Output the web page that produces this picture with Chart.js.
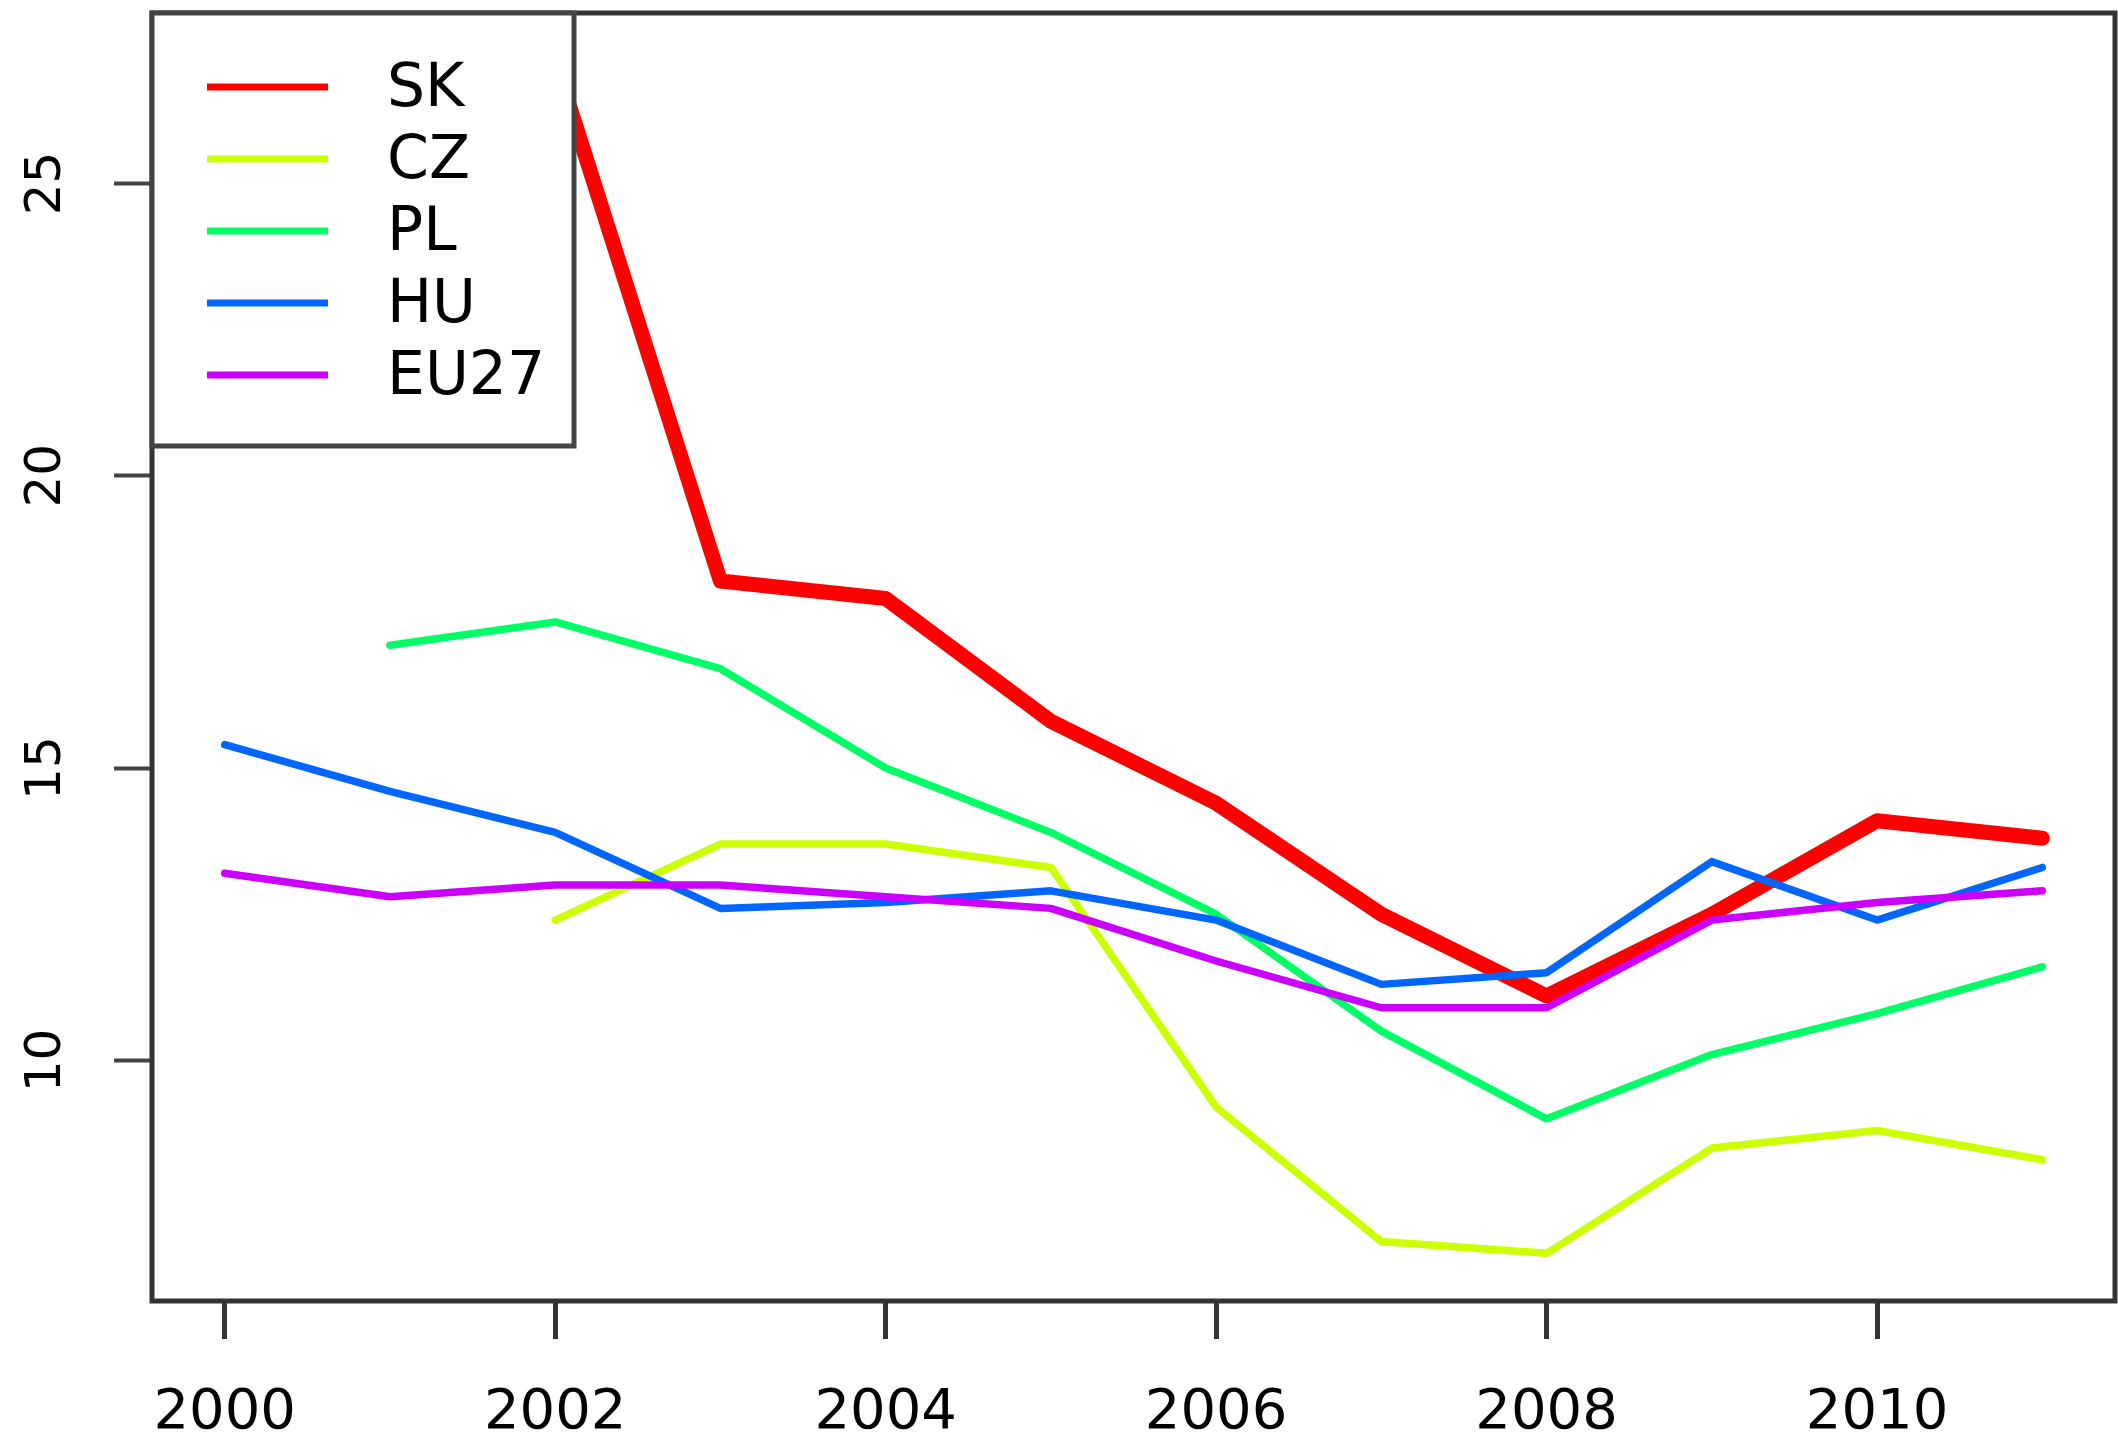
<!DOCTYPE html>
<html lang="en">
<head>
<meta charset="UTF-8" />
<title>SK CZ PL HU EU27</title>
<script src="https://cdn.jsdelivr.net/npm/chart.js@4.4.1/dist/chart.umd.min.js"></script>
<style>
  html,
  body {
    margin: 0;
    padding: 0;
    background: #fff;
  }
  canvas {
    display: block;
  }
</style>
</head>
<body>
<canvas id="myChart" width="2118" height="1439"></canvas>
<script>
const years = [2000, 2001, 2002, 2003, 2004, 2005, 2006, 2007, 2008, 2009, 2010, 2011];
const countries = ["SK", "CZ", "PL", "HU", "EU27"];

// values (null = no line drawn for that year)
const dataSK = [null, null, 27.1, 18.2, 17.9, 15.8, 14.4, 12.5, 11.1, 12.5, 14.1, 13.8];
const dataCZ = [null, null, 12.4, 13.7, 13.7, 13.3, 9.2, 6.9, 6.7, 8.5, 8.8, 8.3];
const dataPL = [null, 17.1, 17.5, 16.7, 15.0, 13.9, 12.5, 10.5, 9.0, 10.1, 10.8, 11.6];
const dataHU = [15.4, 14.6, 13.9, 12.6, 12.7, 12.9, 12.4, 11.3, 11.5, 13.4, 12.4, 13.3];
const dataEU27 = [13.2, 12.8, 13.0, 13.0, 12.8, 12.6, 11.7, 10.9, 10.9, 12.4, 12.7, 12.9];

const xTicks = [2000, 2002, 2004, 2006, 2008, 2010];
const yTicks = [10, 15, 20, 25];

const allSeries = [dataSK, dataCZ, dataPL, dataHU, dataEU27];
const lineColors = ["#FF0000", "#CCFF00", "#00FF66", "#0066FF", "#CC00FF"];
const lineWidths = [15, 7.5, 7.5, 7.5, 7.5];

// axis range like R: data range plus 4% on each side
function paddedRange(values) {
  const clean = values.filter((v) => v !== null);
  const min = Math.min(...clean);
  const max = Math.max(...clean);
  const pad = (max - min) * 0.04;
  return { min: min - pad, max: max + pad };
}

const xRange = paddedRange(years);
const yRange = paddedRange(allSeries.flat());

const datasets = countries.map((name, i) => ({
  label: name,
  data: years.map((yr, j) => ({ x: yr, y: allSeries[i][j] })),
  borderColor: lineColors[i],
  borderWidth: lineWidths[i],
  borderCapStyle: "round",
  borderJoinStyle: "round",
  pointRadius: 0,
  tension: 0,
  fill: false,
  spanGaps: false,
  order: countries.length - i, // last series ends up on top
}));

// box, rotated y labels and the legend box in the top left corner
const rStylePlugin = {
  id: "rStyle",
  afterDatasetsDraw(chart) {
    const { ctx, chartArea, scales } = chart;
    ctx.save();

    ctx.strokeStyle = "#333";
    ctx.lineWidth = 5;
    ctx.strokeRect(chartArea.left, chartArea.top, chartArea.right - chartArea.left, chartArea.bottom - chartArea.top);

    // y tick labels, read from bottom to top
    ctx.fillStyle = "#000";
    ctx.font = "50px 'DejaVu Sans'";
    ctx.textAlign = "center";
    ctx.textBaseline = "middle";
    scales.y.ticks.forEach((tick) => {
      const py = scales.y.getPixelForValue(tick.value);
      ctx.save();
      ctx.translate(47, py);
      ctx.rotate(-Math.PI / 2);
      ctx.fillText(String(tick.value), 0, 0);
      ctx.restore();
    });

    // legend
    const lx = chartArea.left;
    const ly = chartArea.top;
    ctx.fillStyle = "#fff";
    ctx.fillRect(lx, ly, 422, 433);
    ctx.strokeStyle = "#444";
    ctx.lineWidth = 5;
    ctx.strokeRect(lx, ly, 422, 433);

    ctx.font = "60px 'DejaVu Sans'";
    ctx.textAlign = "left";
    chart.data.datasets.forEach((ds, i) => {
      const rowY = ly + 74 + i * 72;
      ctx.strokeStyle = ds.borderColor;
      ctx.lineWidth = 7;
      ctx.beginPath();
      ctx.moveTo(lx + 55, rowY);
      ctx.lineTo(lx + 176, rowY);
      ctx.stroke();
      ctx.fillStyle = "#000";
      ctx.fillText(ds.label, lx + 235, rowY + 3);
    });

    ctx.restore();
  },
};

function createChart() {
  const ctx = document.getElementById("myChart").getContext("2d");
  new Chart(ctx, {
    type: "line",
    data: { datasets: datasets },
    options: {
      responsive: false,
      devicePixelRatio: 1,
      animation: false,
      layout: { padding: { top: 13, right: 3, left: 0, bottom: 0 } },
      plugins: {
        legend: { display: false },
        tooltip: { enabled: false },
      },
      scales: {
        x: {
          type: "linear",
          min: xRange.min,
          max: xRange.max,
          afterBuildTicks: (scale) => {
            scale.ticks = xTicks.map((v) => ({ value: v }));
          },
          afterFit: (scale) => {
            scale.height = 138;
          },
          grid: { drawOnChartArea: false, drawTicks: true, tickLength: 38, tickWidth: 5, tickColor: "#333" },
          border: { display: false },
          ticks: {
            font: { family: "DejaVu Sans", size: 56 },
            color: "#000",
            padding: 41,
            autoSkip: false,
            maxRotation: 0,
            minRotation: 0,
            callback: (v) => String(v),
          },
        },
        y: {
          type: "linear",
          min: yRange.min,
          max: yRange.max,
          afterBuildTicks: (scale) => {
            scale.ticks = yTicks.map((v) => ({ value: v }));
          },
          afterFit: (scale) => {
            scale.width = 152;
          },
          grid: { drawOnChartArea: false, drawTicks: true, tickLength: 38, tickWidth: 4, tickColor: "#444" },
          border: { display: false },
          ticks: { display: false },
        },
      },
    },
    plugins: [rStylePlugin],
  });
}

window.onload = function () {
  createChart();
};
</script>
</body>
</html>
